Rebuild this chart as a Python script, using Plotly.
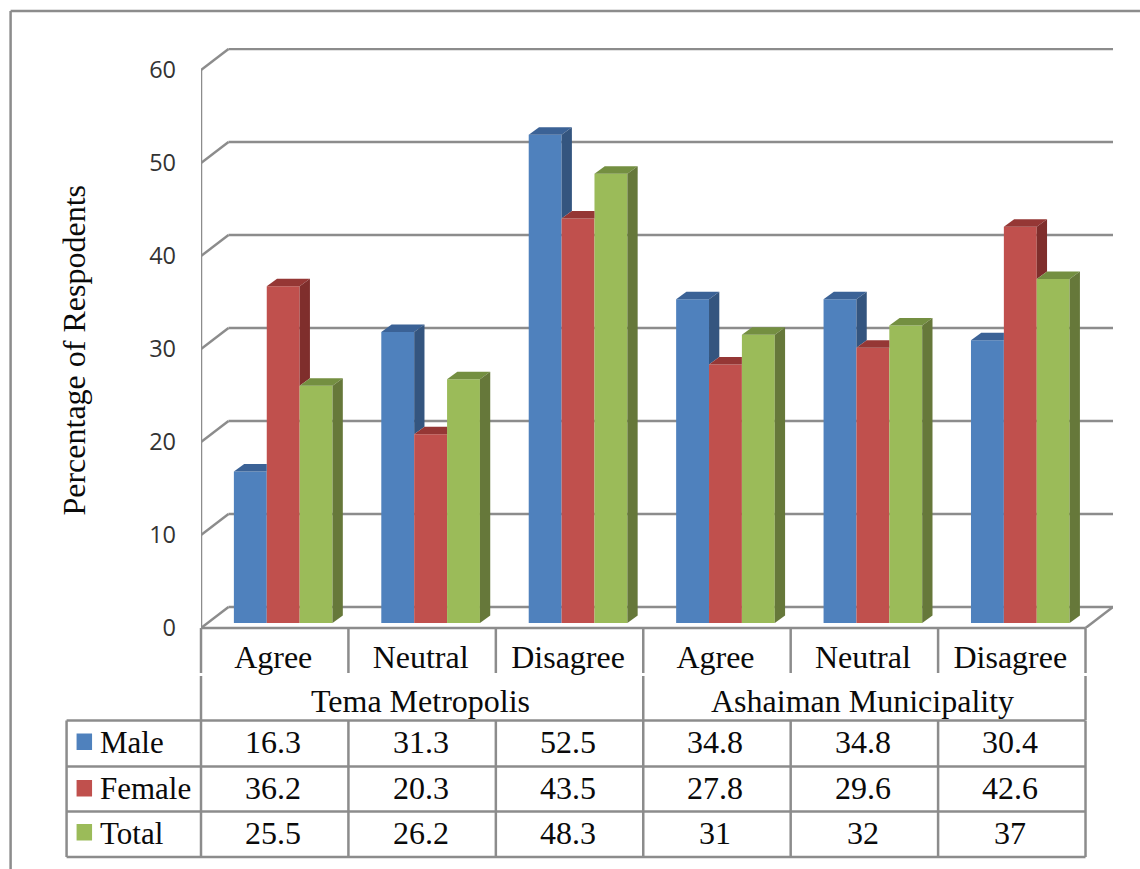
import plotly.graph_objects as go

# Survey responses by area and sex
areas = ["Tema Metropolis", "Ashaiman Municipality"]
responses = ["Agree", "Neutral", "Disagree", "Agree", "Neutral", "Disagree"]
male = [16.3, 31.3, 52.5, 34.8, 34.8, 30.4]
female = [36.2, 20.3, 43.5, 27.8, 29.6, 42.6]
total = [25.5, 26.2, 48.3, 31, 32, 37]
series_names = ["Male", "Female", "Total"]
y_ticks = [0, 10, 20, 30, 40, 50, 60]

series_values = [male, female, total]
front_colors = ["#4F81BD", "#C0504D", "#9BBB59"]
side_colors = ["#34557F", "#7F2E2C", "#66783A"]
top_colors = ["#3B6296", "#953735", "#748F41"]

RULE = "#8C8C8C"
SERIF = "Liberation Serif"
INK = "#0A0A0A"
TEXT_SIZE = 32
KEY_TEXT_SIZE = 31
TEXT_NUDGE = 1.5      # table text sits slightly left of the cell centre

# Plot rectangle on the page, in pixels
PLOT_L, PLOT_R, PLOT_T, PLOT_B = 200.5, 1113.0, 48.0, 628.0
PAGE_W, PAGE_H = 1140, 869
CAT_PX = 147.5        # width of one category
UNIT_PX = 9.3         # height of one percentage point


def paper_x(px):
    return (px - PLOT_L) / (PLOT_R - PLOT_L)


def paper_y(py):
    return (PLOT_B - py) / (PLOT_B - PLOT_T)


# Oblique offset of the back wall and of the bar depth, in data units
wall_dx = 27.5 / CAT_PX
wall_dy = 21 / UNIT_PX
depth_dx = 10.3 / CAT_PX
depth_dy = 7.5 / UNIT_PX
bar_w = 32.9 / CAT_PX
bar_lead = 32.9 / CAT_PX
bar_lift = 5 / UNIT_PX

fig = go.Figure()


def polygon(xs, ys, color):
    fig.add_trace(go.Scatter(
        x=xs + xs[:1], y=ys + ys[:1], mode="lines", fill="toself",
        fillcolor=color, line=dict(width=0, color=color),
        hoverinfo="skip", showlegend=False,
    ))


# Front faces
for s, (name, values) in enumerate(zip(series_names, series_values)):
    fig.add_trace(go.Bar(
        name=name,
        x=[i + bar_lead + bar_w * (s + 0.5) for i in range(len(values))],
        y=values,
        base=[bar_lift] * len(values),
        width=bar_w,
        marker=dict(color=front_colors[s], line=dict(width=0)),
        showlegend=False,
    ))

# Top and side faces; the next bar in a group hides whatever sits behind it
for s, values in enumerate(series_values):
    for i, v in enumerate(values):
        left = i + bar_lead + bar_w * s
        right = left + bar_w
        top = v + bar_lift
        next_top = series_values[s + 1][i] + bar_lift if s < 2 else bar_lift
        top_right = right + depth_dx if next_top < top else right
        polygon([left, left + depth_dx, top_right, right],
                [top, top + depth_dy, top + depth_dy, top], top_colors[s])
        if next_top < top:
            polygon([right, right + depth_dx, right + depth_dx, right],
                    [top, top + depth_dy, next_top + depth_dy, next_top],
                    side_colors[s])

shapes = []


def rule(x0, y0, x1, y1, ref="x", layer="below", width=2.5):
    refs = dict(xref="x", yref="y") if ref == "x" else dict(xref="paper", yref="paper")
    shapes.append(dict(type="line", x0=x0, y0=y0, x1=x1, y1=y1, layer=layer,
                       line=dict(color=RULE, width=width), **refs))


# Walls and gridlines
n_cat = len(responses)
for t in y_ticks:
    rule(0, t, wall_dx, t + wall_dy)
    rule(wall_dx, t + wall_dy, n_cat + wall_dx, t + wall_dy)
rule(0, 0, 0, y_ticks[-1])
rule(n_cat, 0, n_cat + wall_dx, wall_dy)

# Frame around the figure
for a in [(10, 11, 10, PAGE_H), (10, 11, PAGE_W, 11)]:
    rule(paper_x(a[0]), paper_y(a[1]), paper_x(a[2]), paper_y(a[3]), ref="paper")

# Data table rules
col_edges = [PLOT_L + CAT_PX * i for i in range(n_cat + 1)]
row_edges = [720.5, 766.5, 811.5, 857.0]
KEY_L = 66.0
rule(paper_x(PLOT_L), 0, paper_x(col_edges[-1]), 0, ref="paper")
for px in col_edges:
    rule(paper_x(px), paper_y(628), paper_x(px), paper_y(673), ref="paper")
for px in (col_edges[0], col_edges[3], col_edges[6]):
    rule(paper_x(px), paper_y(676), paper_x(px), paper_y(720), ref="paper")
for py in row_edges:
    rule(paper_x(KEY_L), paper_y(py), paper_x(col_edges[-1]), paper_y(py), ref="paper")
for px in [KEY_L] + col_edges:
    rule(paper_x(px), paper_y(row_edges[0]), paper_x(px), paper_y(row_edges[-1]), ref="paper")

annotations = []


def cell_text(text, px, py, anchor="center", angle=0, size=TEXT_SIZE):
    annotations.append(dict(
        text=text, x=paper_x(px), y=paper_y(py), xref="paper", yref="paper",
        xanchor=anchor, yanchor="middle", showarrow=False, textangle=angle,
        font=dict(family=SERIF, size=size, color=INK),
    ))


# Axis title, centred on its own line beside the tick labels
cell_text("Percentage of Respodents", 73, 350, angle=-90)

for g, area in enumerate(areas):
    cell_text(area, col_edges[g * 3] + CAT_PX * 1.5 - TEXT_NUDGE, 701)

row_centers = [742, 788, 833]
key_centers = [742, 788.5, 832.5]
for s, (name, values) in enumerate(zip(series_names, series_values)):
    cy = row_centers[s]
    ky = key_centers[s]
    shapes.append(dict(
        type="rect", xref="paper", yref="paper",
        x0=paper_x(76), x1=paper_x(91.5), y0=paper_y(ky + 8), y1=paper_y(ky - 8.5),
        fillcolor=front_colors[s], line=dict(width=0), layer="above",
    ))
    cell_text(name, 97, cy, anchor="left", size=KEY_TEXT_SIZE)
    for i, v in enumerate(values):
        cell_text(str(v), col_edges[i] + CAT_PX / 2 - TEXT_NUDGE, cy)

fig.update_layout(
    width=PAGE_W, height=PAGE_H,
    margin=dict(l=PLOT_L, r=PAGE_W - PLOT_R, t=PLOT_T, b=PAGE_H - PLOT_B, pad=0),
    autosize=False,
    paper_bgcolor="white", plot_bgcolor="white",
    barmode="overlay",
    shapes=shapes,
    annotations=annotations,
    xaxis=dict(
        range=[0, (PLOT_R - PLOT_L) / CAT_PX],
        tickvals=[i + 0.5 - TEXT_NUDGE / CAT_PX for i in range(n_cat)], ticktext=responses,
        ticks="", ticklabelstandoff=7, showgrid=False, zeroline=False,
        showline=False, automargin=False,
        tickfont=dict(family=SERIF, size=TEXT_SIZE, color=INK),
    ),
    yaxis=dict(
        range=[0, (PLOT_B - PLOT_T) / UNIT_PX],
        tickvals=y_ticks, ticks="", ticklabelstandoff=24,
        showgrid=False, zeroline=False, showline=False, automargin=False,
        tickfont=dict(family="Open Sans", size=23.5, color="#333333"),
    ),
)

fig.write_html("out.html")
